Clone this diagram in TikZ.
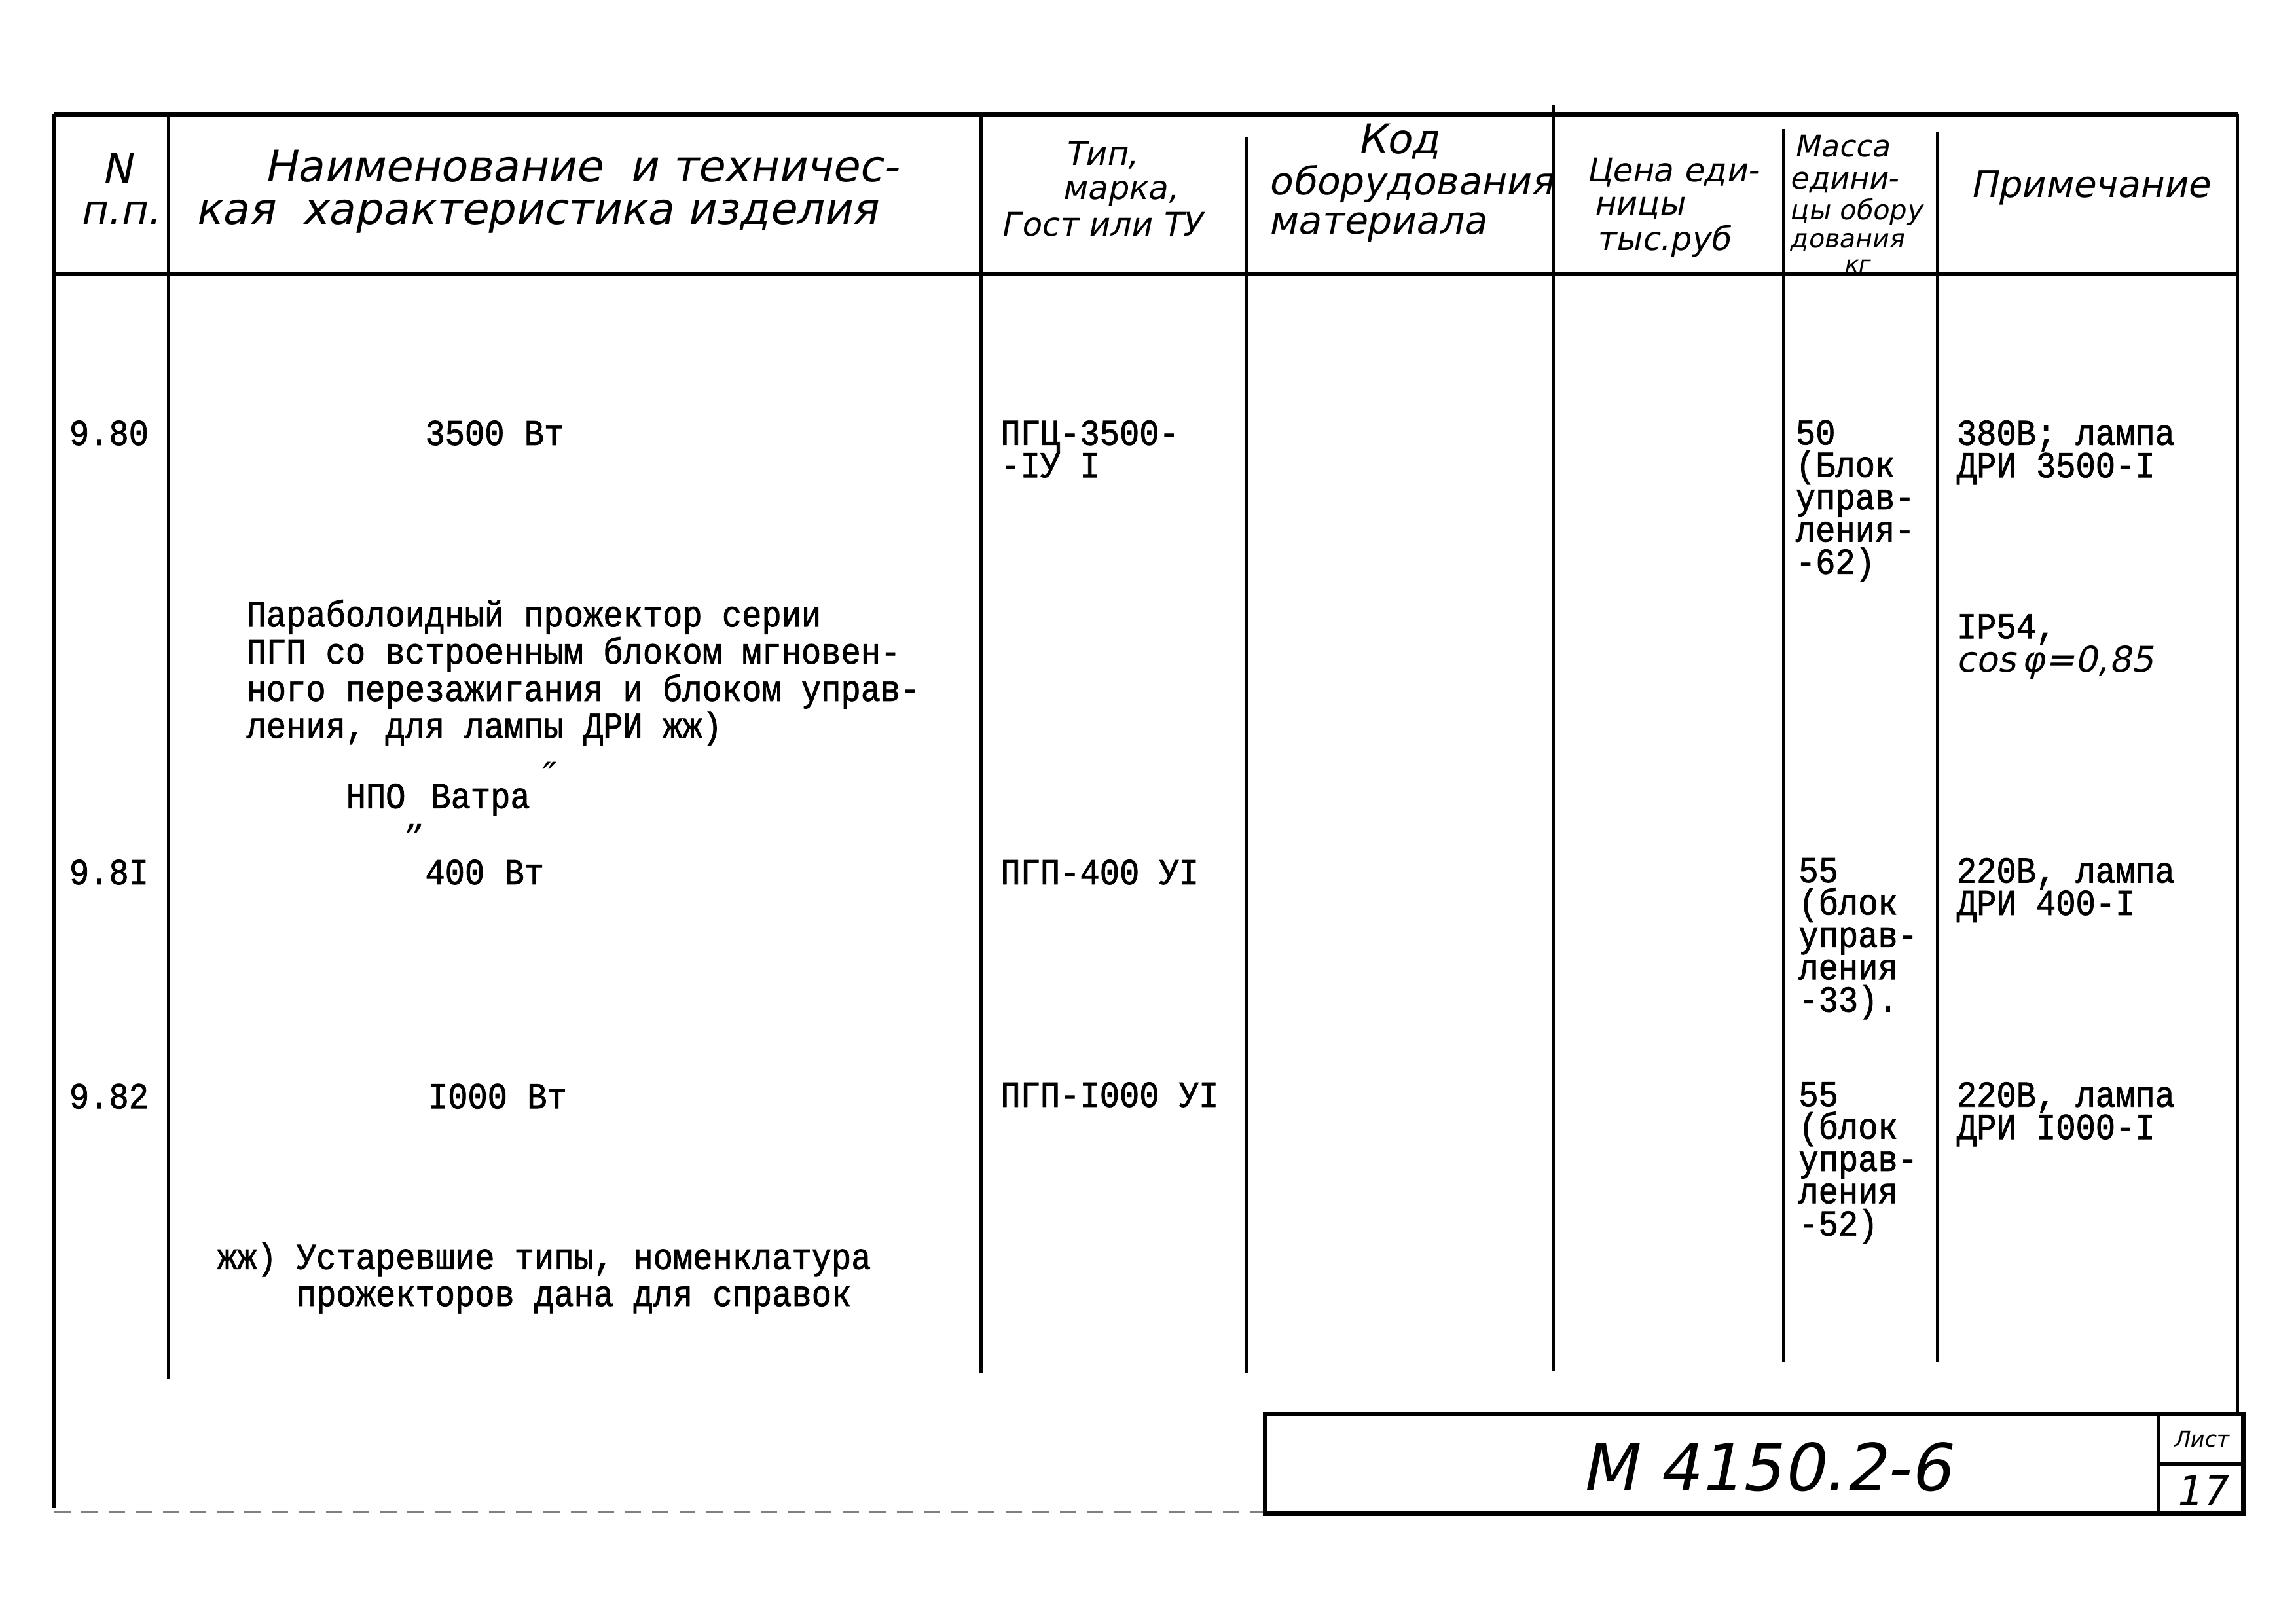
\documentclass[tikz,border=0pt]{standalone}
\usepackage{fontspec}
\newfontfamily\typefont[FakeStretch=0.9,FakeBold=1.4]{Liberation Mono}
\newfontfamily\handfont[FakeSlant=0.2]{DejaVu Sans}
\tikzset{
	typed/.style={font=\typefont\fontsize{13.5pt}{11.9pt}\selectfont, anchor=base west, inner sep=0pt, align=left},
	hand/.style={font=\handfont\fontsize{#1}{#1}\selectfont, anchor=base west, inner sep=0pt},
	hand/.default=14pt,
	gridline/.style={line width=1.1pt},
	frameline/.style={line width=1.6pt},
}
\begin{document}
\begin{tikzpicture}[x=0.018942cm, y=-0.018942cm]
	\useasboundingbox (0,0) rectangle (1568,1109);
	\draw[frameline] (37,78) -- (1528,78);
	\draw[frameline] (37,187) -- (1528,187);
	\draw[gridline] (37,78) -- (37,1030);
	\draw[gridline] (115,78) -- (115,942);
	\draw[gridline] (670,78) -- (670,938);
	\draw[gridline] (851,94) -- (851,938);
	\draw[gridline] (1061,72) -- (1061,936);
	\draw[gridline] (1218,88) -- (1218,930);
	\draw[gridline] (1323,90) -- (1323,930);
	\draw[gridline] (1528,78) -- (1528,966);
	\draw[black!50, line width=0.5pt, dash pattern=on 6pt off 4pt] (37,1033) -- (864,1033);
	\draw[frameline] (864,966) rectangle (1532,1034);
	\draw[gridline] (1474,966) -- (1474,1034);
	\draw[gridline] (1474,1000) -- (1532,1000);

	\node (hN1)  at (80,125)    [hand=15pt, anchor=base] {N};
	\node (hN2)  at (82,153)    [hand=15pt, anchor=base] {п.п.};
	\node (hNm1) at (180,124)   [hand=16pt] {Наименование \ и техничес-};
	\node (hNm2) at (133,153)   [hand=16pt] {кая \ характеристика изделия};
	\node (hT1)  at (752,113)   [hand=12pt, anchor=base] {Тип,};
	\node (hT2)  at (765,136)   [hand=12pt, anchor=base] {марка,};
	\node (hT3)  at (752,161)   [hand=12pt, anchor=base] {Гост или ТУ};
	\node (hK1)  at (955,105)   [hand=15pt, anchor=base] {Код};
	\node (hK2)  at (866,133)   [hand=14pt] {оборудования};
	\node (hK3)  at (866,160)   [hand=14pt] {материала};
	\node (hC1)  at (1083,124)  [hand=12pt] {Цена еди-};
	\node (hC2)  at (1088,147)  [hand=12pt] {ницы};
	\node (hC3)  at (1090,171)  [hand=12pt] {тыс.руб};
	\node (hM1)  at (1225,107)  [hand=11pt] {Масса};
	\node (hM2)  at (1222,129)  [hand=11pt] {едини-};
	\node (hM3)  at (1222,150)  [hand=10pt] {цы обору};
	\node (hM4)  at (1222,169)  [hand=9.5pt] {дования};
	\node (hM5)  at (1268,186)  [hand=8.5pt, anchor=base] {кг};
	\node (hP)   at (1345,135)  [hand=13.5pt] {Примечание};

	\node (n80)  at (47,304)    [typed] {9.80};
	\node (w80)  at (290,304)   [typed] {3500 Вт};
	\node (t80)  at (683,326)   [typed] {ПГЦ-3500-\\-IУ I};
	\node (m80)  at (1226,392)  [typed] {50\\(Блок\\управ-\\ления-\\-62)};
	\node (r80)  at (1336,326)  [typed] {380В; лампа\\ДРИ 3500-I};
	\node (desc) at (168,504)   [typed] {Параболоидный прожектор серии\\ПГП со встроенным блоком мгновен-\\ного перезажигания и блоком управ-\\ления, для лампы ДРИ жж)};
	\node (npo)  at (236,552)   [typed] {НПО};
	\node (q1)   at (283,566)   [hand=14pt, anchor=center] {„};
	\node (vatr) at (294,552)   [typed] {Ватра};
	\node (q2)   at (372,530)   [hand=14pt, anchor=center] {″};
	\node (ip)   at (1336,436)  [typed] {IP54,};
	\node (cos)  at (1336,459)  [hand=13pt] {cos\,φ=0,85};

	\node (n81)  at (47,604)    [typed] {9.8I};
	\node (w81)  at (290,604)   [typed] {400 Вт};
	\node (t81)  at (683,604)   [typed] {ПГП-400 УI};
	\node (m81)  at (1228,691)  [typed] {55\\(блок\\управ-\\ления\\-33).};
	\node (r81)  at (1336,625)  [typed] {220В, лампа\\ДРИ 400-I};

	\node (n82)  at (47,757)    [typed] {9.82};
	\node (w82)  at (292,757)   [typed] {I000 Вт};
	\node (t82)  at (683,756)   [typed] {ПГП-I000 УI};
	\node (m82)  at (1228,844)  [typed] {55\\(блок\\управ-\\ления\\-52)};
	\node (r82)  at (1336,778)  [typed] {220В, лампа\\ДРИ I000-I};

	\node (note) at (148,892)   [typed] {жж) Устаревшие типы, номенклатура\\\phantom{жж) }прожекторов дана для справок};

	\node (code) at (1206,1002) [hand=24pt, anchor=center] {М 4150.2-6};
	\node (sh)   at (1503,983)  [hand=8pt, anchor=center] {Лист};
	\node (shn)  at (1503,1018) [hand=15pt, anchor=center] {17};
\end{tikzpicture}
\end{document}
